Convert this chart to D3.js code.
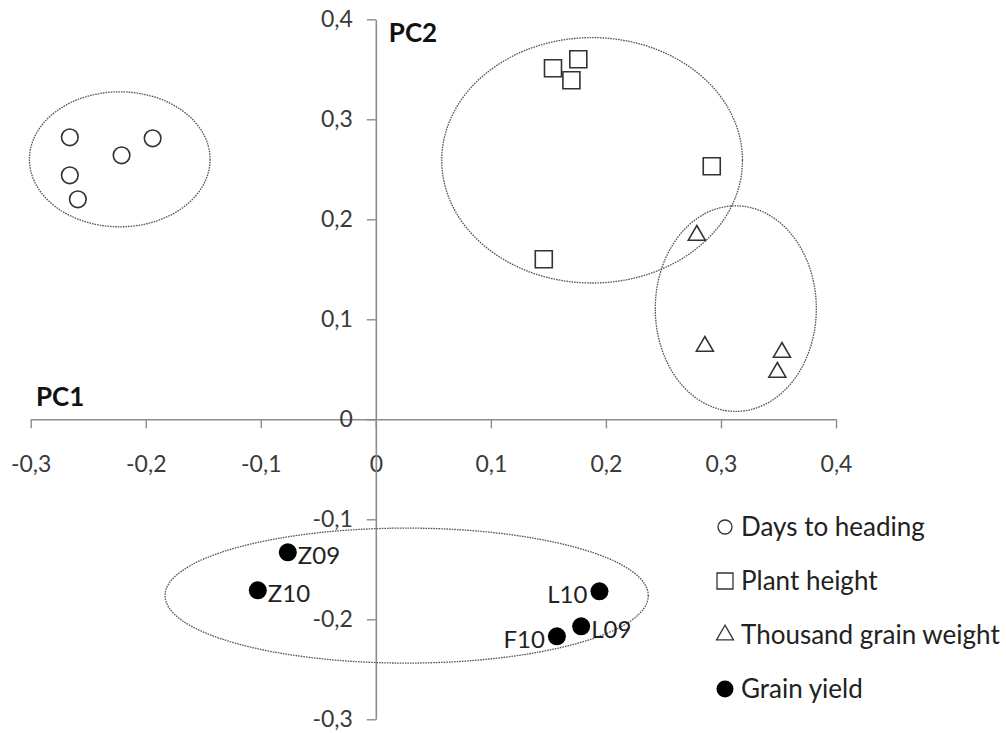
<!DOCTYPE html>
<html>
<head>
<meta charset="utf-8">
<script src="https://cdn.jsdelivr.net/npm/d3@7"></script>
<style>
  html, body { margin: 0; padding: 0; background: #fff; }
  svg { display: block; font-family: Lato, "Open Sans", sans-serif; }
</style>
</head>
<body>
<div id="chart"></div>
<script>
// PCA biplot: PC1 vs PC2, four trait groups with dotted grouping ellipses

const xTicks = [-0.3, -0.2, -0.1, 0, 0.1, 0.2, 0.3, 0.4];
const yTicks = [-0.3, -0.2, -0.1, 0, 0.1, 0.2, 0.3, 0.4];

// Days to heading (open circles)
const daysX = [-0.266, -0.221, -0.194, -0.266, -0.259];
const daysY = [0.282, 0.264, 0.281, 0.244, 0.220];

// Plant height (open squares)
const heightX = [0.154, 0.176, 0.170, 0.292, 0.146];
const heightY = [0.351, 0.360, 0.339, 0.253, 0.160];

// Thousand grain weight (open triangles)
const tgwX = [0.279, 0.286, 0.353, 0.349];
const tgwY = [0.184, 0.073, 0.067, 0.047];

// Grain yield (filled circles, labelled)
const yieldLabels = ['Z09', 'Z10', 'L10', 'L09', 'F10'];
const yieldX = [-0.0765, -0.1026, 0.1944, 0.1785, 0.1574];
const yieldY = [-0.133, -0.171, -0.172, -0.207, -0.217];
const yieldSide = ['right', 'right', 'left', 'right', 'left'];

// grouping ellipses: centre and radii in data units
const ellCX = [-0.2226, 0.188, 0.3129, 0.0268];
const ellCY = [0.260, 0.259, 0.1107, -0.1763];
const ellRX = [0.0785, 0.1307, 0.0700, 0.2100];
const ellRY = [0.0675, 0.1227, 0.1028, 0.0675];

const legendLabels = ['Days to heading', 'Plant height', 'Thousand grain weight', 'Grain yield'];
const legendShapes = ['circle', 'square', 'triangle', 'dot'];

const width = 1006, height = 733;
const svg = d3.select('#chart').append('svg').attr('width', width).attr('height', height);

const x = d3.scaleLinear().domain([-0.3, 0.4]).range([30.7, 836]);
const y = d3.scaleLinear().domain([-0.3, 0.4]).range([719.3, 19.3]);

const loc = d3.formatLocale({ decimal: ',', thousands: '.', grouping: [3], currency: ['', ''], minus: '-' });
const fmt = v => (v === 0 ? '0' : loc.format('.1f')(v));

const axisColor = '#8c8c8c';
const tickColor = '#3a3a3a';

// x axis through y = 0
const gx = svg.append('g')
  .attr('transform', `translate(0,${y(0)})`)
  .call(d3.axisBottom(x).tickValues(xTicks).tickFormat(fmt).tickSize(9).tickPadding(26).tickSizeOuter(0));
// y axis through x = 0
const gy = svg.append('g')
  .attr('transform', `translate(${x(0)},0)`)
  .call(d3.axisLeft(y).tickValues(yTicks).tickFormat(fmt).tickSize(9).tickPadding(14).tickSizeOuter(0));

[gx, gy].forEach(g => {
  g.select('.domain').attr('stroke', axisColor).attr('stroke-width', 1.6);
  g.selectAll('.tick line').attr('stroke', axisColor).attr('stroke-width', 1.4);
  g.selectAll('.tick text').attr('fill', tickColor).style('font-size', '23px').style('font-family', 'Lato, sans-serif');
});
gx.selectAll('.tick text').attr('dy', '0.32em').attr('y', 45);

// axis titles
svg.append('text').attr('x', x(0) + 13).attr('y', 42)
  .style('font-size', '26px').style('font-weight', 'bold').attr('fill', '#111').text('PC2');
svg.append('text').attr('x', 36).attr('y', 406)
  .style('font-size', '26px').style('font-weight', 'bold').attr('fill', '#111').text('PC1');

// ellipses
svg.append('g').selectAll('ellipse')
  .data(ellCX.map((c, i) => ({ cx: c, cy: ellCY[i], rx: ellRX[i], ry: ellRY[i] })))
  .enter().append('ellipse')
  .attr('cx', d => x(d.cx))
  .attr('cy', d => y(d.cy))
  .attr('rx', d => x(d.rx) - x(0))
  .attr('ry', d => y(0) - y(d.ry))
  .attr('fill', 'none')
  .attr('stroke', '#555')
  .attr('stroke-width', 1.3)
  .attr('stroke-dasharray', '1.6 1');

const markStroke = '#333';

// days to heading
svg.append('g').selectAll('circle')
  .data(daysX.map((v, i) => [v, daysY[i]]))
  .enter().append('circle')
  .attr('cx', d => x(d[0])).attr('cy', d => y(d[1])).attr('r', 8.3)
  .attr('fill', 'none').attr('stroke', markStroke).attr('stroke-width', 1.6);

// plant height
svg.append('g').selectAll('path')
  .data(heightX.map((v, i) => [v, heightY[i]]))
  .enter().append('path')
  .attr('d', d3.symbol().type(d3.symbolSquare).size(17 * 17))
  .attr('transform', d => `translate(${x(d[0])},${y(d[1])})`)
  .attr('fill', 'none').attr('stroke', markStroke).attr('stroke-width', 1.6);

// thousand grain weight
svg.append('g').selectAll('path')
  .data(tgwX.map((v, i) => [v, tgwY[i]]))
  .enter().append('path')
  .attr('d', d3.symbol().type(d3.symbolTriangle).size(125))
  .attr('transform', d => `translate(${x(d[0])},${y(d[1])})`)
  .attr('fill', 'none').attr('stroke', markStroke).attr('stroke-width', 1.6);

// grain yield
const gyData = yieldX.map((v, i) => ({ x: v, y: yieldY[i], label: yieldLabels[i], side: yieldSide[i] }));
const gyG = svg.append('g');
gyG.selectAll('circle').data(gyData).enter().append('circle')
  .attr('cx', d => x(d.x)).attr('cy', d => y(d.y)).attr('r', 9)
  .attr('fill', '#000');
gyG.selectAll('text').data(gyData).enter().append('text')
  .attr('x', d => x(d.x) + (d.side === 'right' ? 10 : -12))
  .attr('y', d => y(d.y) + 3)
  .attr('dy', '0.35em')
  .attr('text-anchor', d => (d.side === 'right' ? 'start' : 'end'))
  .style('font-size', '24px').attr('fill', '#222')
  .text(d => d.label);

// legend
const leg = svg.append('g').attr('transform', 'translate(725,527)');
const rows = leg.selectAll('g').data(legendLabels).enter().append('g')
  .attr('transform', (d, i) => `translate(0,${i * 54})`);
rows.each(function (d, i) {
  const r = d3.select(this);
  const shape = legendShapes[i];
  if (shape === 'circle') {
    r.append('circle').attr('r', 7).attr('fill', 'none').attr('stroke', markStroke).attr('stroke-width', 1.3);
  } else if (shape === 'dot') {
    r.append('circle').attr('r', 8.5).attr('fill', '#000');
  } else {
    r.append('path')
      .attr('d', d3.symbol().type(shape === 'square' ? d3.symbolSquare : d3.symbolTriangle).size(shape === 'square' ? 256 : 125))
      .attr('fill', 'none').attr('stroke', markStroke).attr('stroke-width', 1.3);
  }
});
rows.append('text').attr('x', 16).attr('dy', '0.35em')
  .style('font-size', '26px').attr('fill', '#222')
  .text(d => d);
</script>
</body>
</html>
